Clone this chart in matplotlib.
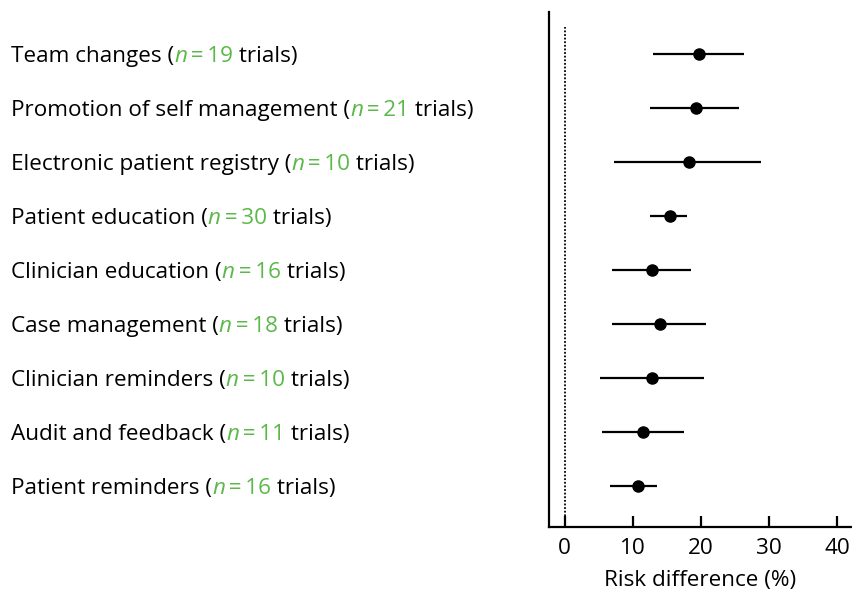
import matplotlib.pyplot as plt

plt.rcParams['font.family'] = ['Open Sans', 'DejaVu Sans']

# interventions, top to bottom
categories = ['Team changes', 'Promotion of self management', 'Electronic patient registry',
              'Patient education', 'Clinician education', 'Case management',
              'Clinician reminders', 'Audit and feedback', 'Patient reminders']
n_trials = [19, 21, 10, 30, 16, 18, 10, 11, 16]
risk_diff = [19.8, 19.3, 18.2, 15.4, 12.8, 14.0, 12.8, 11.5, 10.7]
ci_low = [13.0, 12.6, 7.3, 12.5, 7.0, 6.9, 5.2, 5.5, 6.6]
ci_high = [26.4, 25.6, 28.8, 17.9, 18.5, 20.8, 20.4, 17.5, 13.5]
xticks = [0, 10, 20, 30, 40]

green = '#5cb84a'
fs = 16.2

fig = plt.figure(figsize=(8.52, 5.90), dpi=100)
ax = fig.add_axes([0.644, 0.107, 0.356, 0.873])

ypos = list(range(len(categories), 0, -1))
for y, m, lo, hi in zip(ypos, risk_diff, ci_low, ci_high):
    ax.plot([lo, hi], [y, y], color='black', lw=1.6, solid_capstyle='butt', zorder=2)
    ax.plot(m, y, 'o', color='black', ms=8, zorder=3)

ax.set_ylim(0.24, 9.78)
ax.set_xlim(-2.35, 42.2)
ax.plot([0, 0], [0.24, 9.5], color='black', lw=1.3, ls=(0, (1, 1)), zorder=1)

for s in ['top', 'right']:
    ax.spines[s].set_visible(False)
ax.spines['left'].set_linewidth(1.6)
ax.spines['bottom'].set_linewidth(1.6)
ax.set_yticks([])
ax.set_xticks(xticks)
ax.tick_params(axis='x', direction='in', length=8, width=1.6, labelsize=fs, pad=8)
ax.set_xlabel('Risk difference (%)', fontsize=fs, labelpad=8)

# labels built from coloured pieces
for y, name, n in zip(ypos, categories, n_trials):
    yf = (ax.transData.transform((0, y))[1] - 2.5) / fig.bbox.height
    t = fig.text(11 / 852, yf, name + ' (', fontsize=fs, va='center', ha='left')
    t = ax.annotate('n', xy=(1, 0), xycoords=t, va='bottom', ha='left',
                    fontsize=fs, color=green, style='italic', annotation_clip=False)
    t = ax.annotate('\u2009=\u2009' + str(n), xy=(1, 0), xycoords=t, va='bottom', ha='left',
                    fontsize=fs, color=green, annotation_clip=False)
    ax.annotate(' trials)', xy=(1, 0), xycoords=t, va='bottom', ha='left',
                fontsize=fs, color='black', annotation_clip=False)

fig.savefig('out.png', dpi=100)
